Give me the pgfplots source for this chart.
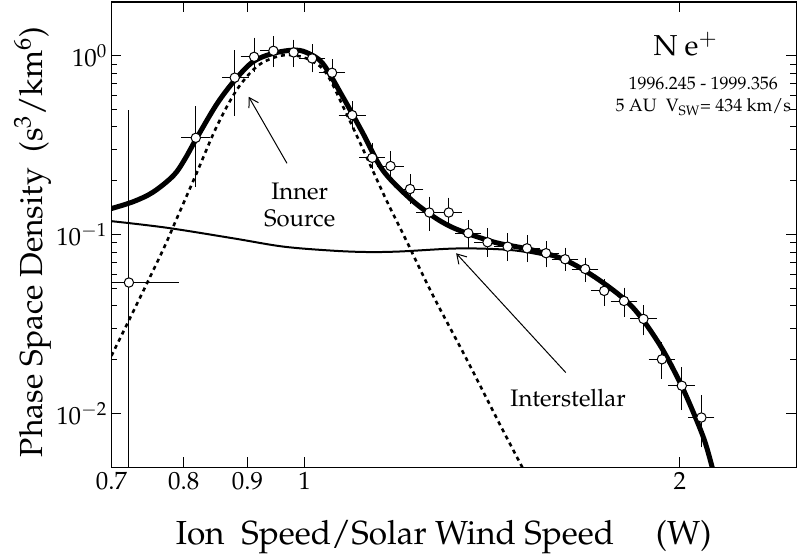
\documentclass[border=0pt]{standalone}
\usepackage[T1]{fontenc}
\usepackage{mathpazo}
\usepackage{pgfplots}
\usepackage{pgfplotstable}
\pgfplotsset{compat=1.18}
\usetikzlibrary{arrows.meta}

\pgfplotstableread{
x y xp xm yp ym
0.723 0.054 0.064 0.023 0.416 0.0535
0.818 0.348 0.016 0.016 0.149 0.153
0.879 0.755 0.016 0.014 0.265 0.268
0.911 0.987 0.016 0.016 0.213 0.134
0.944 1.067 0.016 0.016 0.153 0.157
0.980 1.045 0.017 0.017 0.125 0.135
1.014 0.967 0.017 0.017 0.133 0.117
1.052 0.804 0.018 0.018 0.103 0.088
1.092 0.466 0.019 0.019 0.064 0.056
1.133 0.269 0.019 0.019 0.041 0.024
1.172 0.242 0.020 0.020 0.037 0.022
1.215 0.180 0.021 0.021 0.027 0.023
1.259 0.133 0.021 0.021 0.022 0.022
1.305 0.133 0.022 0.022 0.020 0.013
1.353 0.102 0.023 0.023 0.013 0.0147
1.402 0.0907 0.024 0.024 0.0123 0.0117
1.455 0.0857 0.025 0.025 0.011 0.0107
1.508 0.0839 0.026 0.026 0.0101 0.0099
1.562 0.0788 0.027 0.027 0.0082 0.0098
1.618 0.0729 0.028 0.028 0.0076 0.0069
1.679 0.0643 0.029 0.029 0.0064 0.0071
1.739 0.0485 0.030 0.030 0.0050 0.0064
1.804 0.0426 0.031 0.031 0.0054 0.0059
1.870 0.0338 0.032 0.032 0.0044 0.0050
1.935 0.0201 0.033 0.033 0.0037 0.0036
2.007 0.0143 0.034 0.034 0.0029 0.0033
2.081 0.0095 0.035 0.035 0.0025 0.0027
}\pts

\begin{document}
\begin{tikzpicture}
\begin{axis}[
  xmode=log, ymode=log,
  scale only axis, width=685.5bp, height=465.7bp,
  xmin=0.7, xmax=2.48, ymin=0.005, ymax=2,
  xtick={0.7,0.8,0.9,1,2}, xticklabels={0.7,0.8,0.9,1,2},
  minor xtick={},
  ytick={0.01,0.1,1},
  yticklabels={$10^{-2}$,$10^{-1}$,$10^{0}$},
  tick align=inside,
  major tick length=10bp, minor tick length=6bp,
  axis line style={line width=1.2bp},
  every tick/.style={black, line width=1bp},
  xticklabel style={font=\fontsize{25}{27}\selectfont, yshift=-1bp},
  yticklabel style={font=\fontsize{25}{27}\selectfont, xshift=-1bp},
  xlabel style={font=\fontsize{33.5}{36}\selectfont, at={(axis description cs:0.485,-0.166)},anchor=base},
  ylabel style={font=\fontsize{32}{34}\selectfont, at={(axis description cs:-0.101,0.484)},anchor=base},
  xlabel={Ion\ \ Speed/Solar Wind Speed\quad\ (W)},
  ylabel={Phase Space Density\ \ (s$^3$/km$^6$)},
]
% fitted curves
\addplot[black, line width=5bp, smooth, tension=0.55] coordinates {
(0.70,0.140) (0.729,0.153) (0.756,0.173) (0.785,0.214) (0.801,0.262)
(0.818,0.340) (0.850,0.535) (0.879,0.730) (0.909,0.926) (0.943,1.031)
(0.979,1.076) (1.003,1.045) (1.034,0.907) (1.073,0.590) (1.114,0.368)
(1.155,0.230) (1.214,0.160) (1.267,0.127) (1.306,0.112) (1.346,0.1025)
(1.39,0.095) (1.433,0.0893) (1.523,0.0821) (1.618,0.0722) (1.723,0.0558)
(1.831,0.0396) (1.924,0.0247) (1.996,0.0154) (2.046,0.0105) (2.092,0.00713)
(2.123,0.005) (2.14,0.004)
};
\addplot[black, line width=2bp, smooth, tension=0.55] coordinates {
(0.70,0.119) (0.775,0.1094) (0.876,0.0955) (0.961,0.0858) (1.05,0.0815)
(1.12,0.0800) (1.191,0.0805) (1.314,0.0836) (1.40,0.0834) (1.477,0.0815)
(1.55,0.0770) (1.618,0.0722) (1.723,0.0558) (1.831,0.0396) (1.924,0.0247)
(1.996,0.0154) (2.046,0.0105) (2.092,0.00713) (2.123,0.005) (2.14,0.004)
};
\addplot[black, line width=2.6bp, dash pattern=on 4bp off 4bp, smooth, tension=0.55] coordinates {
(0.70,0.021) (0.735,0.042) (0.770,0.0821) (0.789,0.121) (0.819,0.220)
(0.850,0.401) (0.882,0.643) (0.915,0.868) (0.949,0.987) (0.979,1.009)
(1.01,0.946) (1.041,0.798) (1.080,0.477) (1.121,0.273) (1.163,0.156)
(1.206,0.0934) (1.267,0.046) (1.347,0.0205) (1.433,0.0088) (1.495,0.005)
(1.52,0.004)
};
% error bars
\addplot[only marks, mark=none,
  error bars/.cd, x dir=both, x explicit, y dir=both, y explicit,
  error bar style={draw=black, line width=0.9bp},
  error mark options={draw=black, line width=0.9bp, mark size=4bp}]
  table[x=x, y=y, x error plus=xp, x error minus=xm, y error plus=yp, y error minus=ym] {\pts};
% data points
\addplot[only marks, mark=*, mark size=4.7bp,
  mark options={fill=white, draw=black, line width=1bp}]
  table[x=x, y=y] {\pts};
% annotations
\draw[line width=1bp, -{Straight Barb[length=9bp,width=11bp]}]
  (axis cs:0.968,0.2506) -- (axis cs:0.902,0.590);
\draw[line width=1bp, -{Straight Barb[length=9bp,width=11bp]}]
  (axis cs:1.620,0.01694) -- (axis cs:1.323,0.0787);
\node[anchor=base, font=\fontsize{24}{26}\selectfont] at (axis cs:0.991,0.1577) {Inner};
\node[anchor=base, font=\fontsize{24}{26}\selectfont] at (axis cs:0.991,0.111) {Source};
\node[anchor=base, font=\fontsize{24}{26}\selectfont] at (axis cs:1.627,0.01094) {Interstellar};
\node[anchor=base, font=\fontsize{29}{30}\selectfont] at (rel axis cs:0.838,0.884) {N e$^+$};
\node[anchor=base, font=\fontsize{18}{19}\selectfont] at (rel axis cs:0.864,0.811) {1996.245 - 1999.356};
\node[anchor=base, font=\fontsize{18}{19}\selectfont] at (rel axis cs:0.864,0.764) {5 AU\ \ V$_{\mathrm{SW}}$= 434 km/s};
\end{axis}
\pgfresetboundingbox
\path ([shift={(-111.5bp,-88.3bp)}]current axis.south west) rectangle ([shift={(0.6bp,2bp)}]current axis.north east);
\end{tikzpicture}
\end{document}
